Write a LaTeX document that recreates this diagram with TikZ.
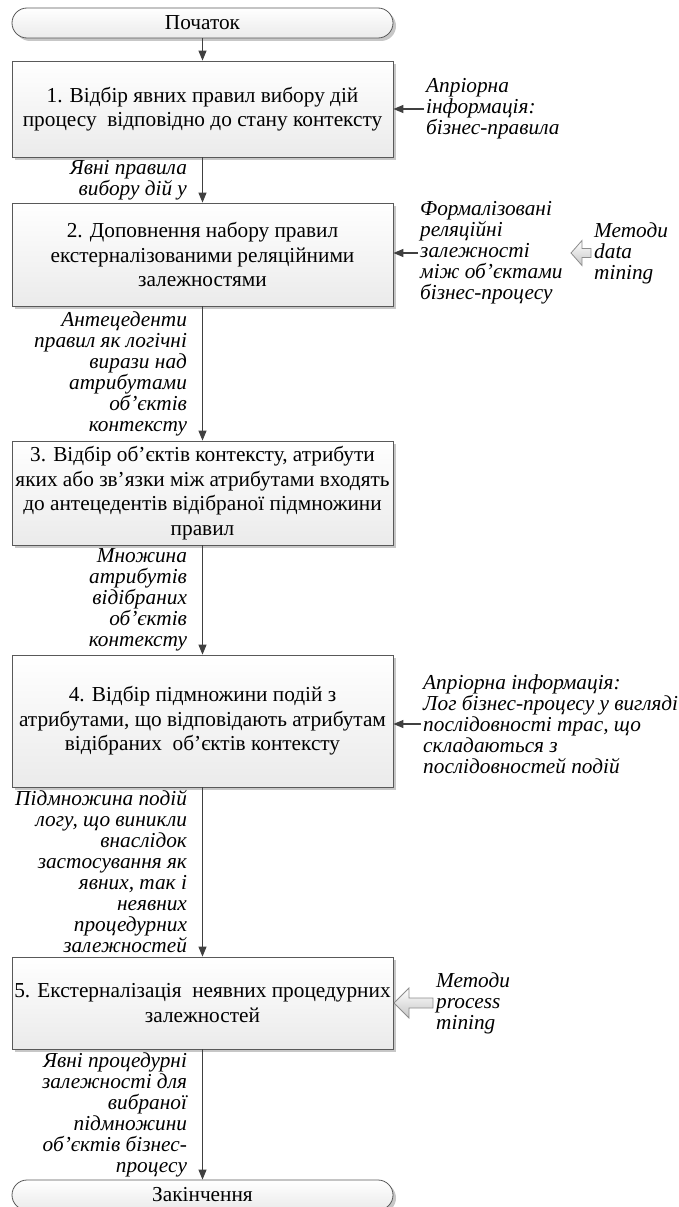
\documentclass[tikz,border=0pt]{standalone}
\usepackage{fontspec}
\setmainfont{Liberation Serif}
\usetikzlibrary{arrows.meta,shadows}
\begin{document}
\begin{tikzpicture}[x=1pt,y=-1pt,
  arr/.style={draw=black!75, line width=1.1pt, -{Triangle[length=10pt,width=8pt]}},
  proc/.style={draw=black!65, line width=0.8pt, top color=white, bottom color=black!8,
    minimum width=381pt, inner sep=0pt, align=center,
    font=\fontsize{21.3}{24.5}\selectfont,
    drop shadow={shadow xshift=3pt, shadow yshift=-3pt, fill=black!22, opacity=1}},
  term/.style={proc, rounded corners=15pt, minimum height=30pt},
  lbl/.style={font=\itshape\fontsize{21.3}{21}\selectfont, inner sep=2pt},
  llbl/.style={lbl, anchor=east, align=right, xshift=-13pt},
  rlbl/.style={lbl, anchor=west, align=left},
  barrow/.style={draw=black!45, line width=0.8pt, top color=white, bottom color=black!22}
]
\useasboundingbox (0,0) rectangle (678,1207);

\node[term] (start) at (202.5,23) {Початок};
\node[proc, minimum height=96pt] (b1) at (202.5,109)
  {1. Відбір явних правил вибору дій\\процесу~ відповідно до стану контексту};
\node[proc, minimum height=103pt] (b2) at (202.5,254.5)
  {2. Доповнення набору правил\\екстерналізованими реляційними\\залежностями};
\node[proc, minimum height=104pt] (b3) at (202.5,493)
  {3. Відбір об’єктів контексту, атрибути\\яких або зв’язки між атрибутами входять\\до антецедентів відібраної підмножини\\правил};
\node[proc, minimum height=132pt] (b4) at (202.5,721)
  {4. Відбір підмножини подій з\\атрибутами, що відповідають атрибутам\\відібраних~ об’єктів контексту};
\node[proc, minimum height=92pt] (b5) at (202.5,1003)
  {5. Екстерналізація~ неявних процедурних\\залежностей};
\node[term] (end) at (202.5,1195) {Закінчення};

\node[rlbl] (r1) at (424,109) {Апріорна\\інформація:\\бізнес-правила};
\node[rlbl] (r2) at (418,253) {Формалізовані\\реляційні\\залежності\\між об’єктами\\бізнес-процесу};
\node[rlbl] (dm) at (592,253) {Методи\\data\\mining};
\node[rlbl] (r4) at (421,724) {Апріорна інформація:\\Лог бізнес-процесу у вигляді\\послідовності трас, що\\складаються з\\послідовностей подій};
\node[rlbl] (pm) at (434,1003) {Методи\\process\\mining};

\draw[arr] (start) -- (b1);
\draw[arr] (b1) -- node[llbl] {Явні правила\\вибору дій у} (b2);
\draw[arr] (b2) -- node[llbl] {Антецеденти\\правил як логічні\\вирази над\\атрибутами\\об’єктів\\контексту} (b3);
\draw[arr] (b3) -- node[llbl] {Множина\\атрибутів\\відібраних\\об’єктів\\контексту} (b4);
\draw[arr] (b4) -- node[llbl] {Підмножина подій\\логу, що виникли\\внаслідок\\застосування як\\явних, так і\\неявних\\процедурних\\залежностей} (b5);
\draw[arr] (b5) -- node[llbl] {Явні процедурні\\залежності для\\вибраної\\підмножини\\об’єктів бізнес-\\процесу} (end);

\draw[arr] (r1.west) -- (r1.west -| b1.east);
\draw[arr] (r2.west) -- (r2.west -| b2.east);
\draw[arr] (r4.west) -- (r4.west -| b4.east);

\draw[barrow] (dm.west) ++(-1,-4.5) -- ++(-9,0) -- ++(0,-8) -- ++(-11,12.5)
  -- ++(11,12.5) -- ++(0,-8) -- ++(9,0) -- cycle;
\draw[barrow] (pm.west) ++(-1,-5) -- ++(-24,0) -- ++(0,-10) -- ++(-15,15)
  -- ++(15,15) -- ++(0,-10) -- ++(24,0) -- cycle;
\end{tikzpicture}
\end{document}
